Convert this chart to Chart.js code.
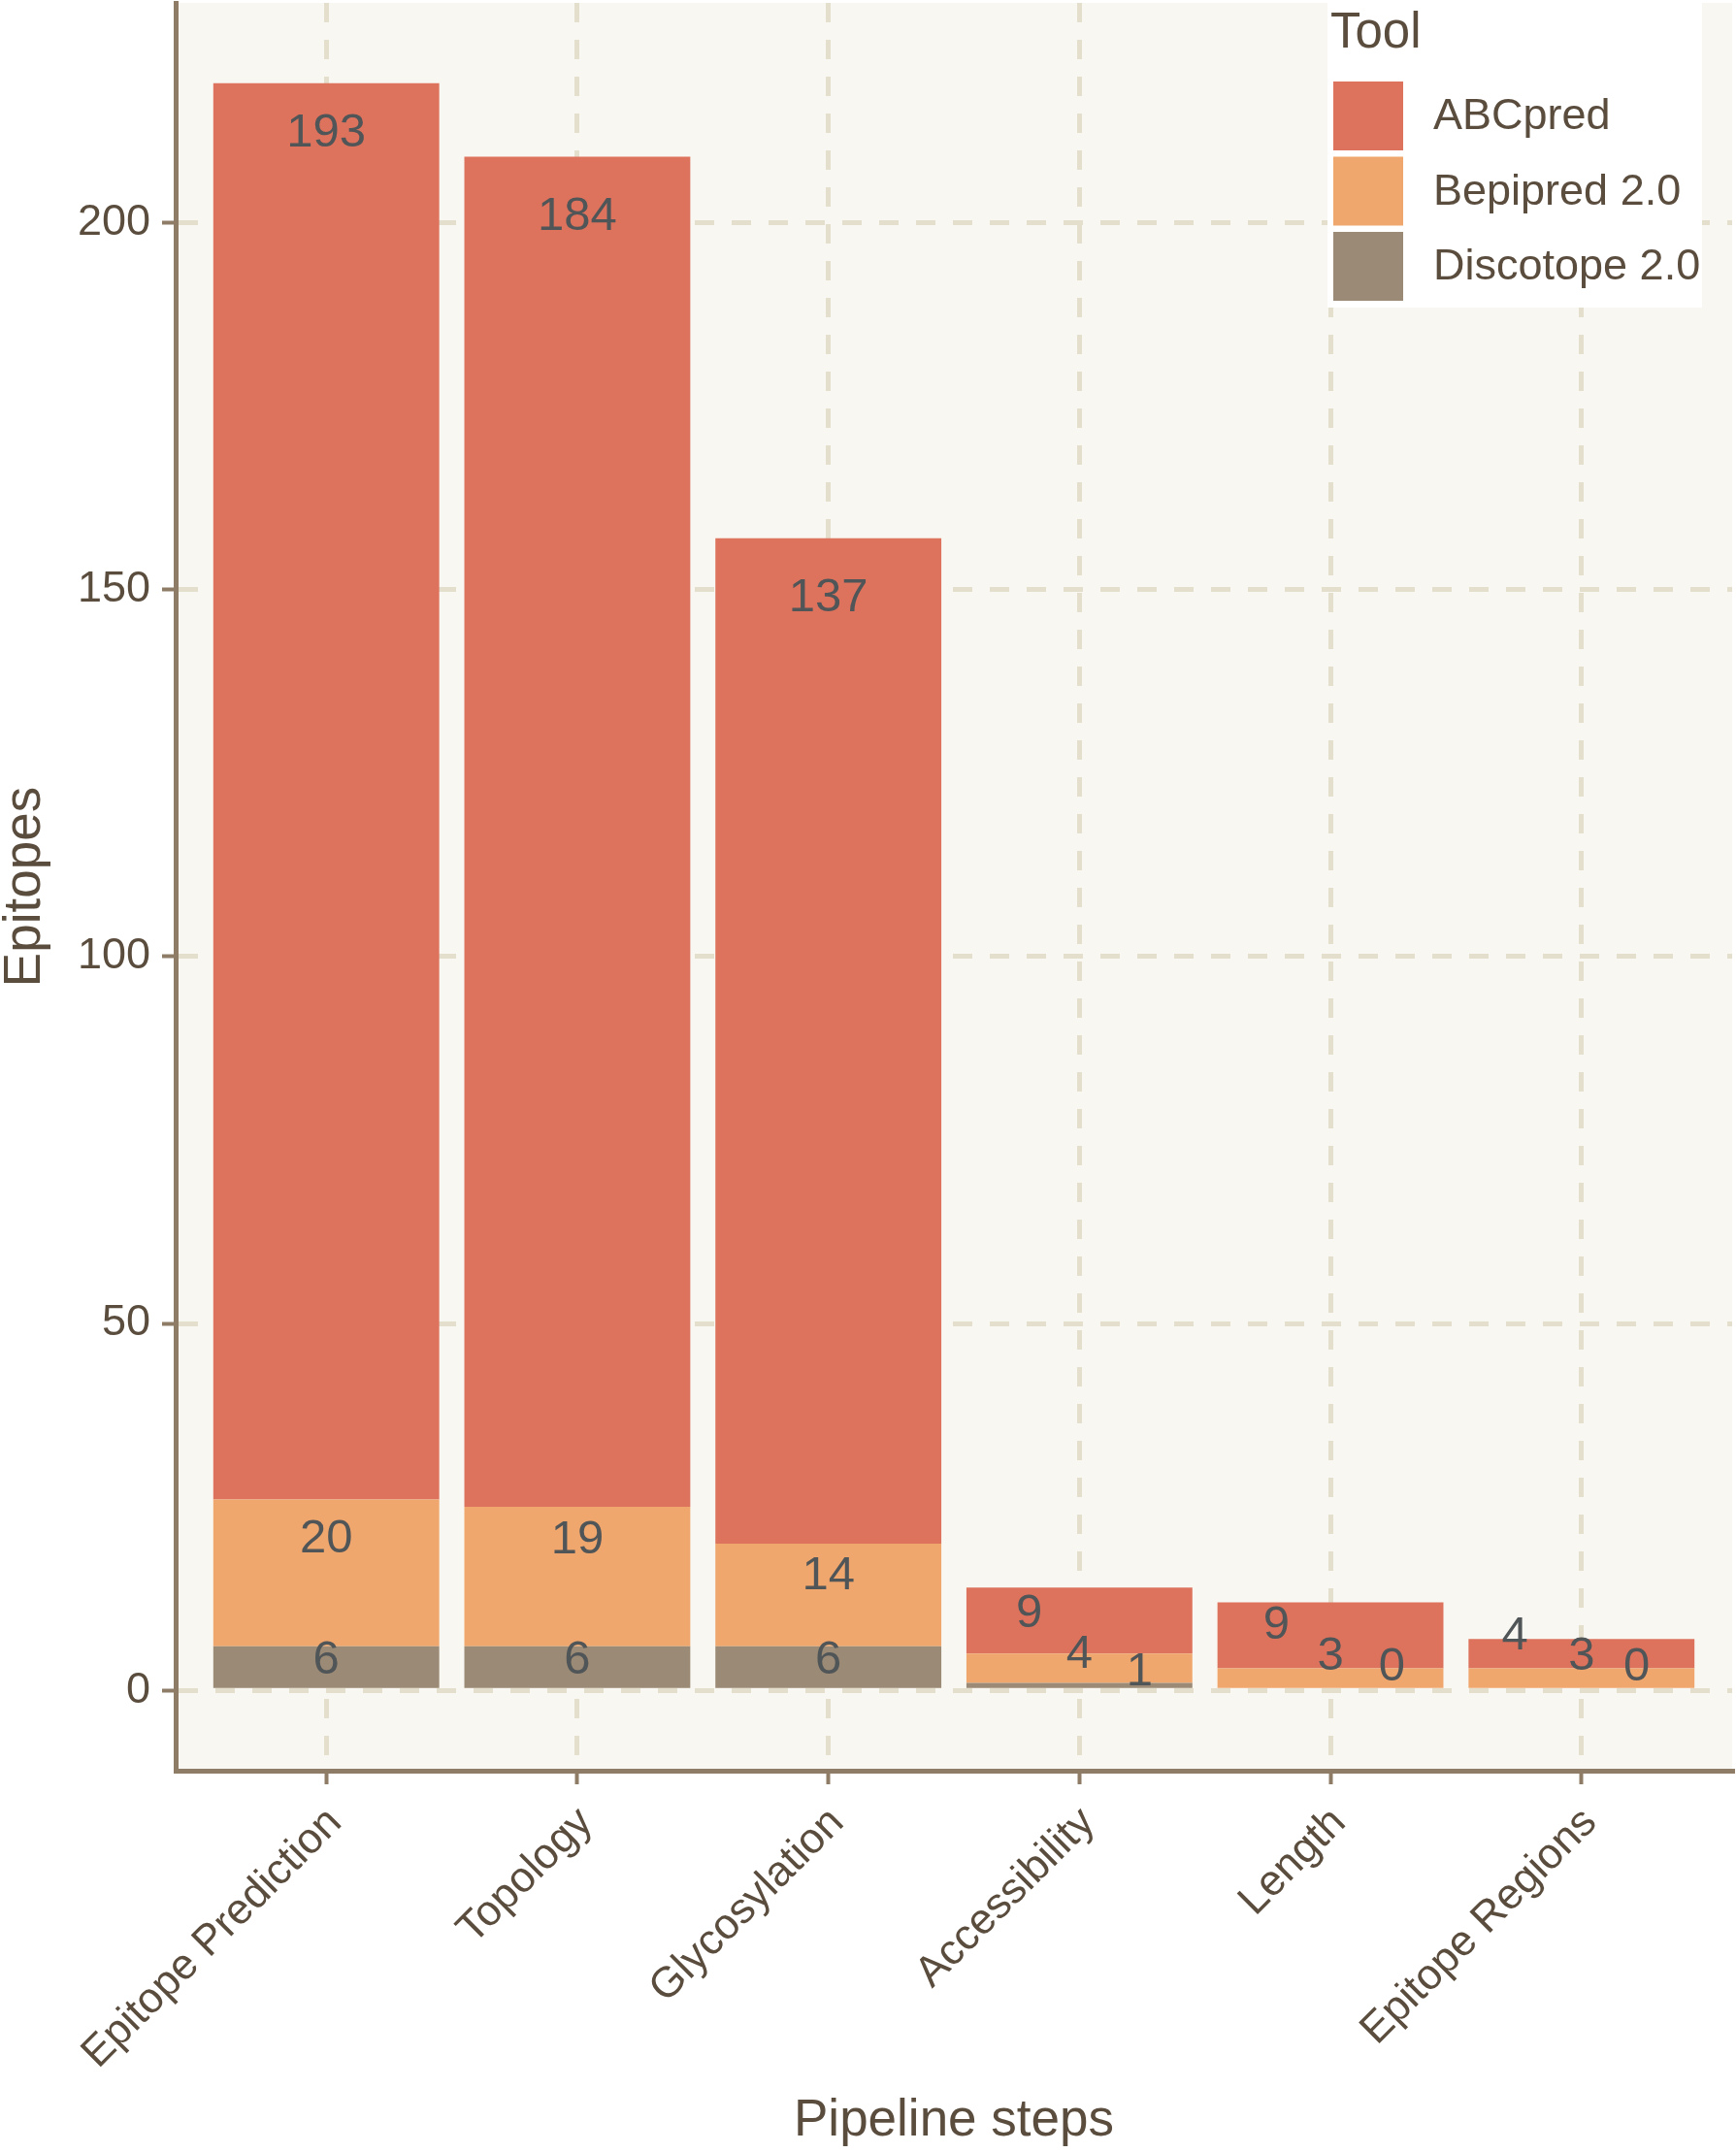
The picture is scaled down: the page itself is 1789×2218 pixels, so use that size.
<!DOCTYPE html>
<html>
<head>
<meta charset="utf-8">
<script src="https://cdn.jsdelivr.net/npm/chart.js@4.4.0/dist/chart.umd.min.js"></script>
<style>
  html, body { margin: 0; padding: 0; background: #ffffff; }
  #wrap { width: 1789px; height: 2218px; }
</style>
</head>
<body>
<div id="wrap"><canvas id="barChart" width="1789" height="2218"></canvas></div>
<script>
// pipeline steps on the x axis
const steps = ["Epitope Prediction", "Topology", "Glycosylation", "Accessibility", "Length", "Epitope Regions"];

// epitopes per tool at each step
const abcpred   = [193, 184, 137, 9, 9, 4];
const bepipred  = [20, 19, 14, 4, 3, 3];
const discotope = [6, 6, 6, 1, 0, 0];

const yTicks = [0, 50, 100, 150, 200];

// where the number labels sit (repelled in the original), in axis units
const abcLabelY  = [212.2, 200.8, 148.9, 10.4, 8.8, 7.3];
const abcLabelDx = [0, 0, 0, -0.2, -0.215, -0.265];
const bepLabelY  = [20.6, 20.4, 15.5, 4.8, 4.6, 4.6];
const bepLabelDx = [0, 0, 0, 0, 0, 0];
const disLabelY  = [4.1, 4.1, 4.1, 2.5, 3.1, 3.1];
const disLabelDx = [0, 0, 0, 0.24, 0.245, 0.22];

const FONT = "'Liberation Sans', Arial, Helvetica, sans-serif";
const axisText = "#5b4d3e";
const axisLine = "#8f7c66";
const gridCol = "#e4decd";
const panelBg = "#f9f7f2";

function toPoints(arr){
  return arr.map((v, i) => ({x: i, y: v}));
}

// panel background behind everything
const panelPlugin = {
  id: 'panel',
  beforeDraw(chart){
    const {ctx, chartArea: a} = chart;
    ctx.save();
    ctx.fillStyle = panelBg;
    ctx.fillRect(a.left, a.top, a.right - a.left, a.bottom - a.top);
    ctx.restore();
  }
};

// numbers on the bars
const labelPlugin = {
  id: 'barLabels',
  afterDatasetsDraw(chart){
    const {ctx, scales} = chart;
    const sets = [
      [discotope, disLabelY, disLabelDx],
      [bepipred, bepLabelY, bepLabelDx],
      [abcpred, abcLabelY, abcLabelDx]
    ];
    ctx.save();
    ctx.font = "49px " + FONT;
    ctx.fillStyle = "#505558";
    ctx.textAlign = "center";
    ctx.textBaseline = "middle";
    sets.forEach(([vals, ly, dx]) => {
      vals.forEach((v, i) => {
        const x = scales.x.getPixelForValue(i + dx[i]);
        const y = scales.y.getPixelForValue(ly[i]);
        ctx.fillText(String(v), x, y);
      });
    });
    ctx.restore();
  }
};

// ggplot style legend box in the top right corner
const legendPlugin = {
  id: 'toolLegend',
  afterDraw(chart){
    const {ctx} = chart;
    const items = chart.data.datasets.slice().reverse();
    ctx.save();
    ctx.fillStyle = "#ffffff";
    ctx.fillRect(1368, 0, 386, 317);
    ctx.fillStyle = axisText;
    ctx.font = "51px " + FONT;
    ctx.textAlign = "left";
    ctx.textBaseline = "alphabetic";
    ctx.fillText("Tool", 1371, 49);
    ctx.font = "45px " + FONT;
    ctx.textBaseline = "middle";
    items.forEach((ds, k) => {
      const top = 84 + k * 77.5;
      ctx.fillStyle = ds.backgroundColor;
      ctx.fillRect(1374, top, 72, 71);
      ctx.fillStyle = axisText;
      ctx.fillText(ds.label, 1477, top + 37);
    });
    ctx.restore();
  }
};

const gridOpts = {
  offset: false,
  color: gridCol,
  lineWidth: 5,
  tickColor: axisLine,
  tickLength: 14,
  tickWidth: 4,
  tickBorderDash: []
};

const ctxB = document.getElementById("barChart").getContext('2d');
const myBarChart = new Chart(ctxB, {
  type: 'bar',
  data: {
    datasets: [
      { label: "Discotope 2.0", data: toPoints(discotope), backgroundColor: "#9b8a75" },
      { label: "Bepipred 2.0",  data: toPoints(bepipred),  backgroundColor: "#f0a76e" },
      { label: "ABCpred",       data: toPoints(abcpred),   backgroundColor: "#dd735d" }
    ]
  },
  options: {
    responsive: false,
    animation: false,
    devicePixelRatio: 1,
    layout: { padding: { left: 0, right: 4, top: 3, bottom: 0 } },
    datasets: {
      bar: { categoryPercentage: 0.9, barPercentage: 1.0, borderWidth: 0 }
    },
    plugins: {
      legend: { display: false },
      tooltip: { enabled: false }
    },
    scales: {
      x: {
        type: 'linear',
        min: -0.6,
        max: 5.6,
        offset: false,
        stacked: true,
        afterBuildTicks(axis){
          axis.ticks = steps.map((s, i) => ({value: i}));
        },
        afterFit(axis){
          axis.height = 2218 - 1825;
          axis.paddingLeft = 0;
          axis.paddingRight = 0;
        },
        ticks: {
          autoSkip: false,
          minRotation: 45,
          maxRotation: 45,
          padding: 14,
          labelOffset: 9,
          color: axisText,
          font: { family: FONT, size: 44 },
          callback: (v) => steps[v]
        },
        grid: gridOpts,
        border: { display: true, color: axisLine, width: 5, dash: [20, 18] },
        title: {
          display: true,
          text: "Pipeline steps",
          color: axisText,
          font: { family: FONT, size: 53, lineHeight: 1 },
          padding: { top: 0, bottom: 5 }
        }
      },
      y: {
        type: 'linear',
        min: -10.95,
        max: 229.95,
        stacked: true,
        afterBuildTicks(axis){
          axis.ticks = yTicks.map(v => ({value: v}));
        },
        afterFit(axis){
          axis.width = 181;
          axis.paddingTop = 0;
          axis.paddingBottom = 0;
        },
        ticks: {
          padding: 12,
          color: axisText,
          font: { family: FONT, size: 45 }
        },
        grid: gridOpts,
        border: { display: true, color: axisLine, width: 5, dash: [20, 18] },
        title: {
          display: true,
          text: "Epitopes",
          color: axisText,
          font: { family: FONT, size: 53, lineHeight: 1 },
          padding: { top: 0, bottom: 0 }
        }
      }
    }
  },
  plugins: [panelPlugin, labelPlugin, legendPlugin]
});
</script>
</body>
</html>
